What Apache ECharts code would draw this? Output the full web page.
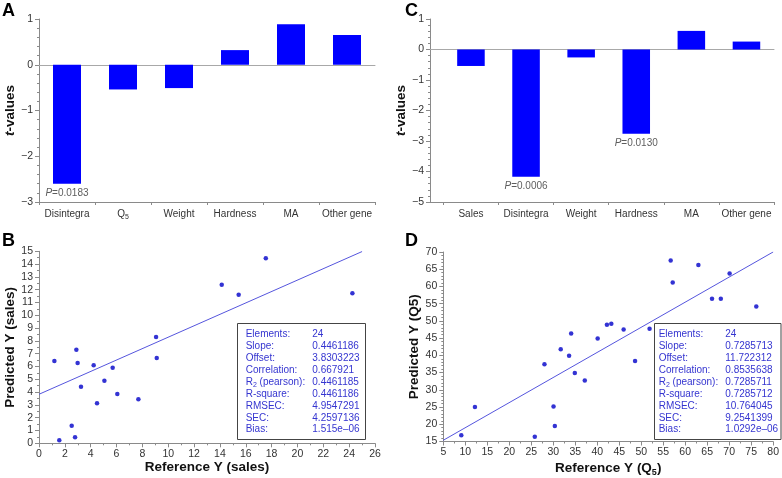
<!DOCTYPE html>
<html><head><meta charset="utf-8">
<script src="https://cdn.jsdelivr.net/npm/echarts@6/dist/echarts.min.js"></script>
<style>html,body{margin:0;padding:0;background:#fff}#c{width:782px;height:478px}</style>
</head><body><div id="c"></div>
<script>
// ---- data ----
const catsA = ['Disintegra', 'Q5', 'Weight', 'Hardness', 'MA', 'Other gene'];
const tValuesA = [-2.6, -0.54, -0.51, 0.32, 0.885, 0.65];
const pLabelsA = [['Disintegra', -2.6, '0.0183']];

const catsC = ['Sales', 'Disintegra', 'Weight', 'Hardness', 'MA', 'Other gene'];
const tValuesC = [-0.54, -4.17, -0.26, -2.76, 0.61, 0.26];
const pLabelsC = [['Disintegra', -4.17, '0.0006'], ['Hardness', -2.76, '0.0130']];

const refB = [1.19, 1.57, 2.53, 2.79, 2.89, 2.99, 3.25, 4.23, 4.49, 5.06, 5.7, 6.06, 7.69, 9.11, 9.06, 14.14, 15.45, 17.55, 24.25];
const predB = [6.43, 0.23, 1.38, 0.47, 7.31, 6.27, 4.42, 6.09, 3.12, 4.89, 5.9, 3.85, 3.44, 6.66, 8.3, 12.39, 11.6, 14.45, 11.72];
const fitLineB = [[0, 3.83], [25, 14.98]];

const refD = [9.09, 12.19, 25.8, 28.0, 30.06, 30.36, 31.7, 33.6, 34.07, 34.9, 37.17, 40.1, 42.2, 43.2, 46.0, 48.6, 51.9, 56.7, 57.16, 63.0, 66.1, 68.1, 70.1, 76.16];
const predD = [16.83, 25.0, 16.35, 37.4, 25.19, 19.5, 41.8, 39.9, 46.35, 34.9, 32.7, 44.9, 48.9, 49.2, 47.5, 38.4, 47.7, 67.5, 61.15, 66.25, 56.4, 56.4, 63.75, 54.2];
const fitLineD = [[5, 15.36], [80, 70.01]];

const statNames = ['Elements:', 'Slope:', 'Offset:', 'Correlation:', 'R2 (pearson):', 'R-square:', 'RMSEC:', 'SEC:', 'Bias:'];
const statsB = ['24', '0.4461186', '3.8303223', '0.667921', '0.4461185', '0.4461186', '4.9547291', '4.2597136', '1.515e–06'];
const statsD = ['24', '0.7285713', '11.722312', '0.8535638', '0.7285711', '0.7285712', '10.764045', '9.2541399', '1.0292e–06'];

const yRangeA = [-3, 1, 1];
const yRangeC = [-5, 1, 1];
const xRangeB = [0, 26, 2], yRangeB = [0, 15, 1];
const xRangeD = [5, 80, 5], yRangeD = [15, 70, 5];

// ---- styling ----
const FONT = 'Liberation Sans, Arial, Helvetica, sans-serif';
const AXIS = '#8a8a8a';
const TXT = '#333';
const BAR = '#0000ff';
const DOT = '#0000c8';
const FIT = '#5555dd';
const STAT = '#3535d0';
const minus = v => String(v).replace('-', '−');

const subRich = (size, col, weight) => ({
  n: {fontSize: size, lineHeight: size + 4, color: col, fontWeight: weight, fontFamily: FONT},
  s: {fontSize: Math.round(size * 0.65), lineHeight: Math.round(size * 0.6), padding: [Math.round(size * 0.6), 0, 0, 0], color: col, fontWeight: weight, fontFamily: FONT},
  i: {fontSize: size, lineHeight: size + 4, color: col, fontStyle: 'italic', fontWeight: weight, fontFamily: FONT}
});

const grids = [
  {left: 39, top: 19, width: 336, height: 183},      // 0 A outer
  {left: 39, top: 19, width: 336, height: 183},      // 1 A inner
  {left: 430, top: 19, width: 344, height: 183},     // 2 C outer
  {left: 443.4, top: 19, width: 330.6, height: 183}, // 3 C inner
  {left: 39, top: 251.3, width: 336, height: 192},   // 4 B
  {left: 443.3, top: 252, width: 330.4, height: 190.7} // 5 D
];

function frameX(gi, onZero) {
  return {
    type: 'value', gridIndex: gi, min: 0, max: 1, position: onZero ? 'top' : 'bottom',
    axisLine: {show: true, onZero: onZero, lineStyle: {color: onZero ? '#a8a8a8' : AXIS, width: 1}},
    axisTick: {show: false}, axisLabel: {show: false}, splitLine: {show: false}
  };
}
function catX(gi, cats) {
  return {
    type: 'category', gridIndex: gi, data: cats, position: 'bottom',
    axisLine: {show: false, onZero: false},
    axisTick: {show: true, length: 3, lineStyle: {color: AXIS}},
    axisLabel: {interval: 0, margin: 5, formatter: v => v === 'Q5' ? '{n|Q}{s|5}' : '{n|' + v + '}', rich: subRich(10, TXT)},
    splitLine: {show: false}
  };
}
function valAxis(gi, r, opts) {
  return Object.assign({
    type: 'value', gridIndex: gi, min: r[0], max: r[1], interval: r[2],
    axisLine: {show: true, onZero: false, lineStyle: {color: AXIS}},
    axisTick: {show: true, length: 4, lineStyle: {color: AXIS}},
    minorTick: {show: true, splitNumber: 2, length: 2, lineStyle: {color: AXIS}},
    axisLabel: {color: TXT, fontSize: 10.5, fontFamily: FONT, margin: 6, formatter: minus},
    splitLine: {show: false}
  }, opts || {});
}
function hiddenY(gi, r) {
  return {type: 'value', gridIndex: gi, min: r[0], max: r[1], interval: r[2], show: false, splitLine: {show: false}};
}
const yNameStyle = {fontSize: 13.5, fontWeight: 'bold', color: '#111', fontFamily: FONT};
const tName = {
  name: '{i|t}{n|-values}', nameLocation: 'middle', nameRotate: 90,
  nameTextStyle: {rich: {
    i: {fontSize: 13.5, fontWeight: 'bold', fontStyle: 'italic', color: '#111', fontFamily: FONT},
    n: {fontSize: 13.5, fontWeight: 'bold', color: '#111', fontFamily: FONT}
  }}
};

const xAxes = [
  frameX(0, false), frameX(0, true), catX(1, catsA),
  frameX(2, false), frameX(2, true), catX(3, catsC),
  valAxis(4, xRangeB, {name: 'Reference Y (sales)', nameLocation: 'middle', nameGap: 17, nameTextStyle: yNameStyle,
    minorTick: {show: true, splitNumber: 2, length: 2, lineStyle: {color: AXIS}}, axisLabel: {color: TXT, fontSize: 10.5, fontFamily: FONT, margin: 5}}),
  valAxis(5, xRangeD, {name: '{b|Reference Y (Q}{s|5}{b|)}', nameLocation: 'middle', nameGap: 18,
    nameTextStyle: {rich: {
      b: {fontSize: 13.5, lineHeight: 17, fontWeight: 'bold', color: '#111', fontFamily: FONT},
      s: {fontSize: 9, lineHeight: 8, padding: [9, 0, 0, 0], fontWeight: 'bold', color: '#111', fontFamily: FONT}
    }},
    axisLabel: {color: TXT, fontSize: 10.5, fontFamily: FONT, margin: 5}})
];
const yAxes = [
  valAxis(0, yRangeA, Object.assign({nameGap: 18, minorTick: {show: true, splitNumber: 5, length: 2, lineStyle: {color: AXIS}}}, tName)),
  hiddenY(1, yRangeA),
  valAxis(2, yRangeC, Object.assign({nameGap: 20, minorTick: {show: true, splitNumber: 5, length: 2, lineStyle: {color: AXIS}}}, tName)),
  hiddenY(3, yRangeC),
  valAxis(4, yRangeB, {name: 'Predicted Y (sales)', nameLocation: 'middle', nameGap: 19, nameTextStyle: yNameStyle}),
  valAxis(5, yRangeD, {name: 'Predicted Y (Q5)', nameLocation: 'middle', nameGap: 17, nameTextStyle: yNameStyle,
    minorTick: {show: true, splitNumber: 5, length: 2, lineStyle: {color: AXIS}}})
];

function pSeries(xi, yi, list) {
  return {
    type: 'scatter', xAxisIndex: xi, yAxisIndex: yi, symbolSize: 0, silent: true, z: 5,
    data: list.map(p => ({value: [p[0], p[1]], pv: p[2]})),
    label: {show: true, position: 'bottom', distance: 3,
      formatter: prm => '{i|P}{n|=' + prm.data.pv + '}', rich: subRich(10, TXT)}
  };
}
const zip = (a, b) => a.map((v, i) => [v, b[i]]);

const series = [
  {type: 'bar', xAxisIndex: 2, yAxisIndex: 1, data: tValuesA, barWidth: '50%', itemStyle: {color: BAR}},
  pSeries(2, 1, pLabelsA),
  {type: 'bar', xAxisIndex: 5, yAxisIndex: 3, data: tValuesC, barWidth: '50%', itemStyle: {color: BAR}},
  pSeries(5, 3, pLabelsC),
  {type: 'line', xAxisIndex: 6, yAxisIndex: 4, data: fitLineB, showSymbol: false, lineStyle: {color: FIT, width: 1}},
  {type: 'scatter', xAxisIndex: 6, yAxisIndex: 4, data: zip(refB, predB), symbolSize: 4.5, itemStyle: {color: DOT}},
  {type: 'line', xAxisIndex: 7, yAxisIndex: 5, data: fitLineD, showSymbol: false, lineStyle: {color: FIT, width: 1}},
  {type: 'scatter', xAxisIndex: 7, yAxisIndex: 5, data: zip(refD, predD), symbolSize: 4.5, itemStyle: {color: DOT}}
];

function statBox(left, top, w, h, labX, valX, values) {
  const children = [{type: 'rect', shape: {x: 0, y: 0, width: w, height: h}, style: {fill: '#fff', stroke: '#444', lineWidth: 1}}];
  statNames.forEach((nm, i) => {
    const y = 11 + i * 11.9;
    const txt = nm.startsWith('R2') ? '{n|R}{s|2}{n|' + nm.slice(2) + '}' : '{n|' + nm + '}';
    children.push({type: 'text', x: labX, y: y, style: {text: txt, rich: subRich(10, STAT), verticalAlign: 'middle', fill: STAT}});
    children.push({type: 'text', x: valX, y: y, style: {text: values[i], font: '10px ' + FONT, verticalAlign: 'middle', fill: STAT}});
  });
  return {type: 'group', x: left, y: top, z: 100, children: children};
}
const letter = (t, x, y) => ({type: 'text', x: x, y: y, z: 100, style: {text: t, font: 'bold 18px ' + FONT, fill: '#000'}});

const chart = echarts.init(document.getElementById('c'), null, {renderer: 'canvas'});
chart.setOption({
  animation: false,
  backgroundColor: '#fff',
  textStyle: {fontFamily: FONT},
  grid: grids,
  xAxis: xAxes,
  yAxis: yAxes,
  series: series,
  graphic: [
    letter('A', 2, 2), letter('C', 405, 2), letter('B', 2, 232), letter('D', 405, 232),
    statBox(237.5, 323.5, 128, 116, 8.2, 74.8, statsB),
    statBox(654.5, 323.5, 126.5, 116, 4.2, 70.8, statsD)
  ]
});
</script></body></html>
